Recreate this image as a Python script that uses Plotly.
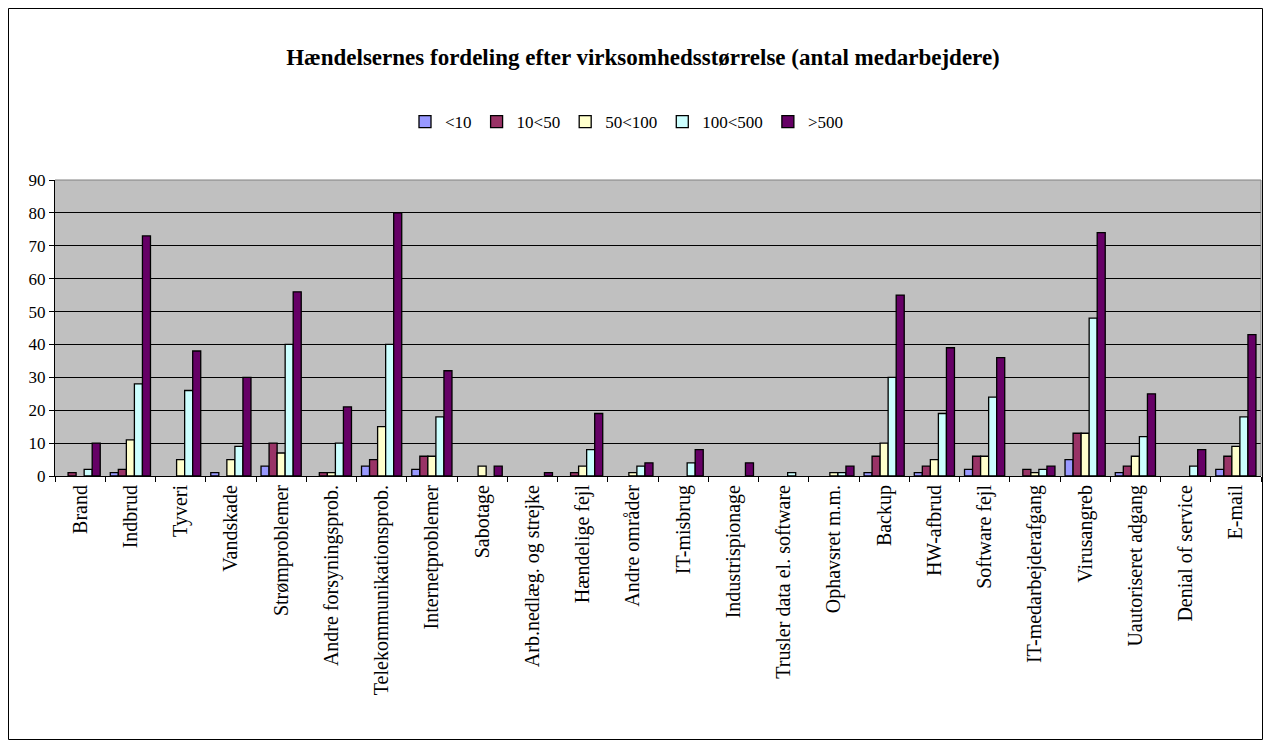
import plotly.graph_objects as go

categories = ["Brand", "Indbrud", "Tyveri", "Vandskade", "Strømproblemer",
              "Andre forsyningsprob.", "Telekommunikationsprob.", "Internetproblemer",
              "Sabotage", "Arb.nedlæg. og strejke", "Hændelige fejl", "Andre områder",
              "IT-misbrug", "Industrispionage", "Trusler data el. software",
              "Ophavsret m.m.", "Backup", "HW-afbrud", "Software fejl",
              "IT-medarbejderafgang", "Virusangreb", "Uautoriseret adgang",
              "Denial of service", "E-mail"]

series_names = ["<10", "10<50", "50<100", "100<500", ">500"]

v_lt10 =     [0, 1, 0, 1, 3, 0, 3, 2, 0, 0, 0, 0, 0, 0, 0, 0, 1, 1, 2, 0, 5, 1, 0, 2]
v_10_50 =    [1, 2, 0, 0, 10, 1, 5, 6, 0, 0, 1, 0, 0, 0, 0, 0, 6, 3, 6, 2, 13, 3, 0, 6]
v_50_100 =   [0, 11, 5, 5, 7, 1, 15, 6, 3, 0, 3, 1, 0, 0, 0, 1, 10, 5, 6, 1, 13, 6, 0, 9]
v_100_500 =  [2, 28, 26, 9, 40, 10, 40, 18, 0, 0, 8, 3, 4, 0, 1, 1, 30, 19, 24, 2, 48, 12, 3, 18]
v_gt500 =    [10, 73, 38, 30, 56, 21, 80, 32, 3, 1, 19, 4, 8, 4, 0, 3, 55, 39, 36, 3, 74, 25, 8, 43]

colors = ["#9999FF", "#993366", "#FFFFCC", "#CCFFFF", "#660066"]
values = [v_lt10, v_10_50, v_50_100, v_100_500, v_gt500]

FONT = "Liberation Serif, Times New Roman, serif"

W, H = 1263, 740
L, R, T, B = 55, 2, 180, 264

fig = go.Figure()
for name, vals, col in zip(series_names, values, colors):
    fig.add_trace(go.Bar(name=name, x=categories,
                         y=[v if v else None for v in vals],
                         marker=dict(color=col, line=dict(color="black", width=1.3))))

pw = W - L - R
ph = H - T - B

def px_x(p):
    return (p - L) / pw

def px_y(p):
    return 1 - (p - T) / ph

frame = dict(color="black", width=1)
fig.update_layout(
    width=W, height=H,
    margin=dict(l=L, r=R, t=T, b=B, autoexpand=False),
    paper_bgcolor="white",
    plot_bgcolor="#C0C0C0",
    barmode="group",
    bargap=0.2,
    bargroupgap=0,
    font=dict(family=FONT, color="black"),
    title=dict(text="<b>Hændelsernes fordeling efter virksomhedsstørrelse (antal medarbejdere)</b>",
               x=643 / W, xref="container", xanchor="center",
               y=1 - 57 / H, yref="container", yanchor="middle",
               font=dict(family=FONT, size=23, color="black")),
    legend=dict(orientation="h", x=px_x(405), xanchor="left",
                y=px_y(122), yanchor="middle",
                font=dict(family=FONT, size=17, color="black"),
                itemwidth=30, bgcolor="rgba(0,0,0,0)", traceorder="normal"),
    xaxis=dict(tickangle=-90, tickfont=dict(family=FONT, size=20),
               showline=True, linecolor="black", linewidth=1,
               ticks="outside", tickson="boundaries", ticklen=5, tickcolor="black",
               showgrid=False, mirror=False),
    yaxis=dict(range=[0, 90], dtick=10, tickfont=dict(family=FONT, size=17),
               showline=True, linecolor="black", linewidth=1,
               ticks="outside", ticklen=5, tickcolor="black",
               showgrid=True, gridcolor="black", gridwidth=1,
               zeroline=False),
    shapes=[
        dict(type="line", xref="paper", yref="paper", x0=1, x1=1, y0=0, y1=1,
             line=dict(color="#808080", width=1)),
        dict(type="line", xref="paper", yref="paper", x0=0, x1=1, y0=1, y1=1,
             line=dict(color="#808080", width=1)),
        dict(type="rect", xref="paper", yref="paper", x0=px_x(8.5), x1=px_x(1262.5),
             y0=px_y(8.5), y1=px_y(739.5), line=frame, fillcolor="rgba(0,0,0,0)", layer="above"),
    ],
)

fig.write_html("out.html",
               config={"displayModeBar": False},
               post_script="document.body.style.margin='0';document.body.style.overflow='hidden';")
